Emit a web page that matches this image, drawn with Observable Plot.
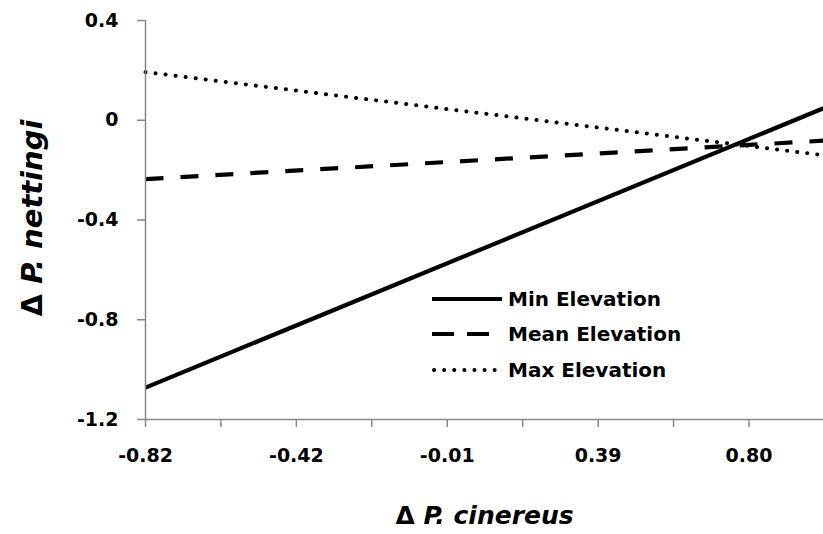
<!DOCTYPE html>
<html><head><meta charset="utf-8">
<script src="https://cdn.jsdelivr.net/npm/d3@7"></script>
<script src="https://cdn.jsdelivr.net/npm/@observablehq/plot@0.6"></script>
<style>
body{margin:0;background:#fff;}
#wrap{position:relative;width:823px;height:534px;font-family:"DejaVu Sans",sans-serif;}
#legend{position:absolute;left:432px;top:281px;font-weight:bold;font-size:20px;color:#000;}
#legend .row{display:flex;align-items:center;height:35.5px;}
#legend svg{margin-right:6px;}
</style></head><body><div id="wrap"></div>
<script>
const seriesNames = ["Min Elevation", "Mean Elevation", "Max Elevation"];
const xEnds = [-0.82, 1.0];
const minElevation = [-1.072, 0.048];
const meanElevation = [-0.236, -0.082];
const maxElevation = [0.193, -0.14];
const xTickValues = [-0.82, -0.6175, -0.415, -0.2125, -0.01, 0.1925, 0.395, 0.5975, 0.80];
const xTickLabels = ["-0.82", "", "-0.42", "", "-0.01", "", "0.39", "", "0.80"];
const yTickValues = [0.4, 0, -0.4, -0.8, -1.2];
const yTickLabels = ["0.4", "0", "-0.4", "-0.8", "-1.2"];
const xTitle = "Δ P. cinereus";
const yTitle = "Δ P. nettingi";

const seriesValues = [minElevation, meanElevation, maxElevation];
const dashes = [null, "18 17", "0.1 10"];
const widths = [4.2, 4.2, 4];
const rows = seriesNames.map((s, k) => xEnds.map((x, i) => ({series: s, x, y: seriesValues[k][i]})));

const axisColor = "#878787";
const chart = Plot.plot({
  width: 823, height: 534,
  marginLeft: 145, marginRight: 0, marginTop: 20, marginBottom: 115,
  style: {fontFamily: "'DejaVu Sans', sans-serif", fontSize: "19px", fontWeight: "bold", color: "#000", background: "#fff"},
  x: {domain: [-0.82, 1.0]},
  y: {domain: [-1.2, 0.4]},
  marks: [
    ...rows.map((r, k) => Plot.line(r, {x: "x", y: "y", stroke: "#000", strokeWidth: widths[k],
        strokeDasharray: dashes[k], strokeLinecap: k === 2 ? "round" : "butt"})),
    Plot.ruleX([-0.82], {stroke: axisColor, strokeWidth: 1.5}),
    Plot.ruleY([-1.2], {stroke: axisColor, strokeWidth: 1.5}),
    Plot.axisX({ticks: xTickValues, tickFormat: (d, i) => xTickLabels[xTickValues.indexOf(d)], tickSize: 8, tickPadding: 21,
      stroke: axisColor, strokeWidth: 1.5, label: null, fill: "#000"}),
    Plot.axisY({ticks: yTickValues, tickFormat: d => yTickLabels[yTickValues.indexOf(d)], tickSize: 8, tickPadding: 19,
      stroke: axisColor, strokeWidth: 1.5, label: null, fill: "#000"}),
    Plot.text([xTitle], {frameAnchor: "bottom", lineAnchor: "middle", dy: 96, text: d => d, fontSize: 25, fontWeight: "bold", fill: "#000"}),
    Plot.text([yTitle], {frameAnchor: "left", textAnchor: "middle", lineAnchor: "middle", dx: -113, dy: -2, rotate: -90, text: d => d, fontSize: 29, fontWeight: "bold", fill: "#000"})
  ]
});
document.getElementById("wrap").appendChild(chart);

// mixed italic in titles
d3.select(chart).selectAll("text").filter(function() { return this.textContent === xTitle || this.textContent === yTitle; })
  .each(function() {
    const t = this.textContent;
    const sel = d3.select(this);
    sel.text(null);
    sel.append("tspan").text("Δ ");
    sel.append("tspan").attr("font-style", "italic").text(t.slice(2));
  });

// legend
const legend = d3.select("#wrap").append("div").attr("id", "legend");
seriesNames.forEach((s, k) => {
  const row = legend.append("div").attr("class", "row");
  const sv = row.append("svg").attr("width", 70).attr("height", 10);
  sv.append("line").attr("x1", k === 2 ? 2 : 0).attr("x2", 70).attr("y1", 5).attr("y2", 5)
    .attr("stroke", "#000").attr("stroke-width", widths[k])
    .attr("stroke-dasharray", k === 1 ? "22 13" : dashes[k])
    .attr("stroke-linecap", k === 2 ? "round" : "butt");
  row.append("span").text(s);
});
</script></body></html>
